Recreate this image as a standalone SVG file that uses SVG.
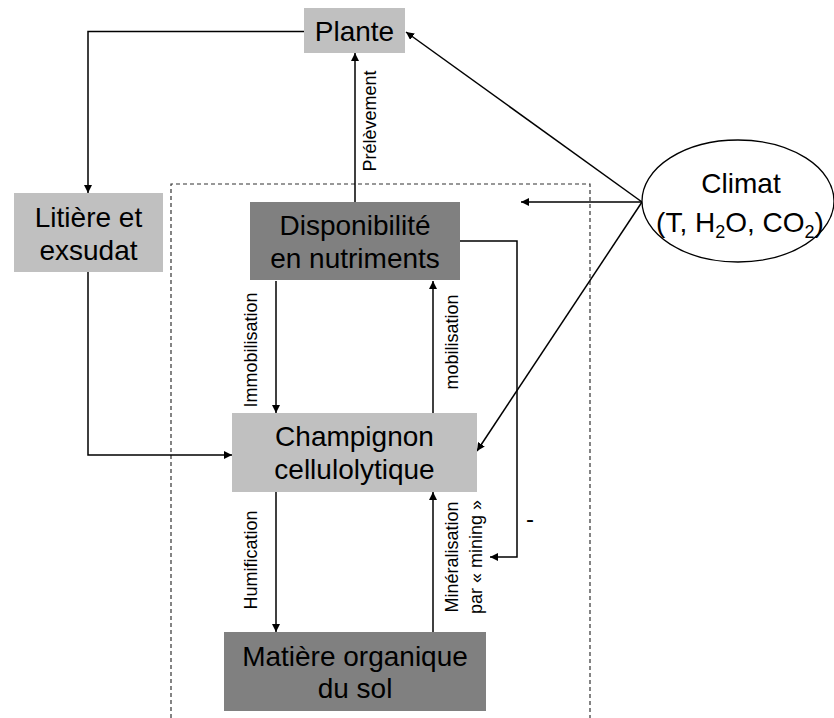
<svg xmlns="http://www.w3.org/2000/svg" width="834" height="718" viewBox="0 0 834 718">
<defs>
<style>
.light{fill:#c0c0c0}
.dark{fill:#808080}
.t{font-family:"Liberation Sans",Arial,sans-serif;font-size:28px;fill:#000;text-anchor:middle}
.s{font-family:"Liberation Sans",Arial,sans-serif;font-size:18px;fill:#000;text-anchor:middle}
.c{fill:none;stroke:#000;stroke-width:1.5}
.dash{fill:none;stroke:#333;stroke-width:1.2;stroke-dasharray:4 3}
</style>
<marker id="ah" viewBox="0 0 10 10" refX="10" refY="5" markerWidth="8" markerHeight="8" markerUnits="userSpaceOnUse" orient="auto">
<path d="M0,0 L10,5 L0,10 z" fill="#000"/>
</marker>
</defs>
<rect width="834" height="718" fill="#fff"/>
<g id="frame">
<path class="dash" d="M171,718 V184 H590 V718"/>
</g>
<g id="connectors">
<path class="c" d="M304,31.5 H88 V193" marker-end="url(#ah)"/>
<path class="c" d="M88,272 V455 H232" marker-end="url(#ah)"/>
<path class="c" d="M355,202 V53" marker-end="url(#ah)"/>
<path class="c" d="M642,202 L406,32" marker-end="url(#ah)"/>
<path class="c" d="M642,202 H521" marker-end="url(#ah)"/>
<path class="c" d="M642,202 L477,451" marker-end="url(#ah)"/>
<path class="c" d="M460,241 H517 V557 H490" marker-end="url(#ah)"/>
<path class="c" d="M276,281 V413" marker-end="url(#ah)"/>
<path class="c" d="M433,413 V281" marker-end="url(#ah)"/>
<path class="c" d="M276,492 V632" marker-end="url(#ah)"/>
<path class="c" d="M433,632 V492" marker-end="url(#ah)"/>
<text class="s" transform="translate(376,121) rotate(-90)">Prélèvement</text>
<text class="s" transform="translate(257,350) rotate(-90)">Immobilisation</text>
<text class="s" transform="translate(458,342) rotate(-90)">mobilisation</text>
<text class="s" transform="translate(257,560) rotate(-90)">Humification</text>
<text class="s" transform="translate(458,557) rotate(-90)">Minéralisation</text>
<text class="s" transform="translate(482,557) rotate(-90)">par « mining »</text>
<text class="s" x="530" y="527" style="font-size:24px">-</text>
</g>
<g id="plante">
<rect class="light" x="304" y="8" width="101" height="45"/>
<text class="t" x="354.5" y="41">Plante</text>
</g>
<g id="litiere">
<rect class="light" x="14" y="193" width="149" height="79"/>
<text class="t" x="88.5" y="227">Litière et</text>
<text class="t" x="88.5" y="260">exsudat</text>
</g>
<g id="disponibilite">
<rect class="dark" x="250" y="202" width="210" height="78"/>
<text class="t" x="355" y="235">Disponibilité</text>
<text class="t" x="355" y="268">en nutriments</text>
</g>
<g id="champignon">
<rect class="light" x="232" y="413" width="245" height="79"/>
<text class="t" x="354.5" y="446">Champignon</text>
<text class="t" x="354.5" y="479">cellulolytique</text>
</g>
<g id="matiere">
<rect class="dark" x="224" y="632" width="262" height="79"/>
<text class="t" x="355" y="666">Matière organique</text>
<text class="t" x="355" y="698">du sol</text>
</g>
<g id="climat">
<ellipse cx="738" cy="201" rx="96" ry="61" fill="#fff" stroke="#000" stroke-width="1.3"/>
<text class="t" x="741" y="193">Climat</text>
<text class="t" x="740" y="232">(T, H<tspan font-size="18" dy="6">2</tspan><tspan dy="-6">O, CO</tspan><tspan font-size="18" dy="6">2</tspan><tspan dy="-6">)</tspan></text>
</g>
</svg>
